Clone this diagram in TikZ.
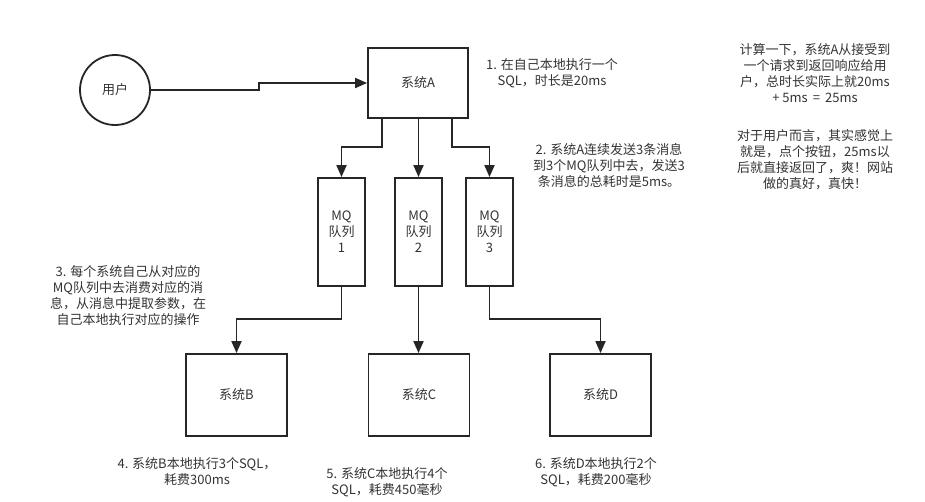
\documentclass[tikz,border=0pt]{standalone}
\usepackage{fontspec}
\usepackage{tikz}
\usetikzlibrary{arrows.meta}
\newfontfamily\cjk{Noto Sans CJK SC}

\begin{document}
\begin{tikzpicture}[x=1pt,y=-1pt,
    line width=1.8pt, draw=black!85,
    every node/.style={font=\cjk\fontsize{13}{16}\selectfont, text=black!80},
    sysbox/.style={draw, minimum width=101pt, minimum height=82pt, inner sep=0pt},
    mqbox/.style={draw, minimum width=47pt, minimum height=108pt, inner sep=0pt, align=center},
    note/.style={align=center, inner sep=0pt},
    link/.style={-{Triangle[length=12pt,width=10pt]}}]
  \useasboundingbox (0,0) rectangle (925,501);%

  % user and system A
  \node[draw, circle, minimum size=70pt, inner sep=0pt] (user) at (115,90) {用户};%
  \node[sysbox, minimum width=100pt, minimum height=70pt] (a) at (418,83) {系统A};%
  \draw[link] (user.east) -- ++(108,0) |- (a.west);%

  % the three queues
  \node[mqbox] (mq1) at (341.5,232) {MQ\\队列\\1};%
  \node[mqbox] (mq2) at (418.5,232) {MQ\\队列\\2};%
  \node[mqbox] (mq3) at (489.5,232) {MQ\\队列\\3};%
  \draw[link] ([xshift=15pt]a.south west) |- ([yshift=30pt]mq1.north) -- (mq1.north);%
  \draw[link] (mq2.north |- a.south) -- (mq2.north);%
  \draw[link] ([xshift=-17pt]a.south east) |- ([yshift=30pt]mq3.north) -- (mq3.north);%

  % systems B, C, D
  \node[sysbox] (b) at (236.5,395) {系统B};%
  \node[sysbox] (c) at (419,395) {系统C};%
  \node[sysbox] (d) at (600.5,395) {系统D};%
  \draw[link] (mq1.south) |- ([yshift=34pt]b.north) -- (b.north);%
  \draw[link] (mq2.south) -- (mq2.south |- c.north);%
  \draw[link] (mq3.south) |- ([yshift=34pt]d.north) -- (d.north);%

  % notes
  \node[note] (n1) at (552,73) {1. 在自己本地执行一个\\SQL，时长是20ms};%
  \node[note] (n2) at (609,165) {2. 系统A连续发送3条消息\\到3个MQ队列中去，发送3\\条消息的总耗时是5ms。};%
  \node[note] (n3) at (128,296) {3. 每个系统自己从对应的\\MQ队列中去消费对应的消\\息，从消息中提取参数，在\\自己本地执行对应的操作};%
  \node[note] (n4) at (197,472) {4. 系统B本地执行3个SQL，\\耗费300ms};%
  \node[note] (n5) at (387,482.5) {5. 系统C本地执行4个\\SQL，耗费450毫秒};%
  \node[note] (n6) at (596,472) {6. 系统D本地执行2个\\SQL，耗费200毫秒};%
  \node[note] (sum1) at (815,73.5) {计算一下，系统A从接受到\\一个请求到返回响应给用\\户，总时长实际上就20ms\\+ 5ms \,=\, 25ms};%
  \node[note] (sum2) at (815,160) {对于用户而言，其实感觉上\\就是，点个按钮，25ms以\\后就直接返回了，爽！网站\\做的真好，真快！};%
\end{tikzpicture}
\end{document}
